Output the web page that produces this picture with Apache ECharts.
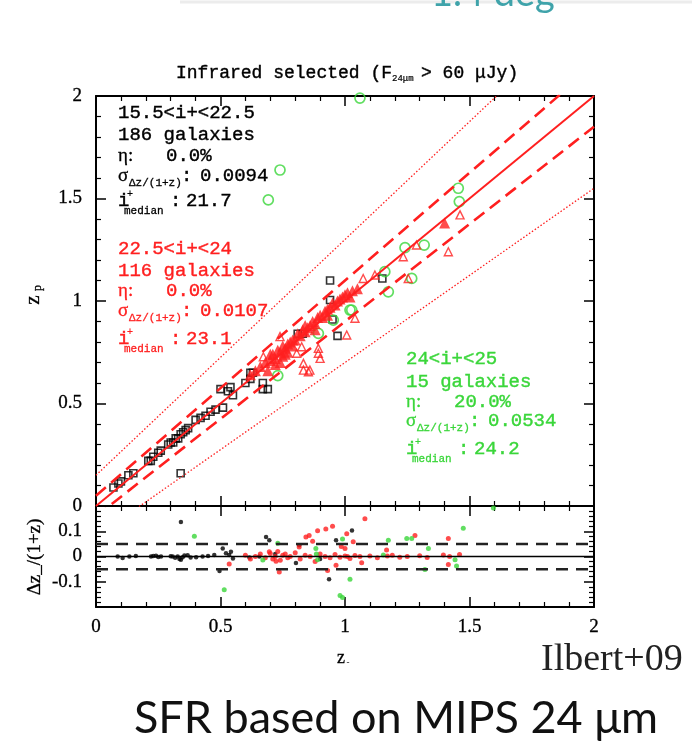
<!DOCTYPE html>
<html>
<head>
<meta charset="utf-8">
<script src="https://cdn.jsdelivr.net/npm/echarts@6/dist/echarts.min.js"></script>
<style>
html,body{margin:0;padding:0;background:#fff;}
#chart{width:692px;height:750px;}
</style>
</head>
<body>
<div id="chart"></div>
<script>
// ---------- DATA ----------
// top panel: [z_spec, z_phot]
const brightSquares = [
 [0.07,0.09],[0.09,0.11],[0.10,0.12],[0.13,0.15],[0.15,0.16],
 [0.21,0.22],[0.22,0.22],[0.23,0.24],[0.25,0.26],[0.26,0.27],
 [0.29,0.30],[0.30,0.31],[0.31,0.31],[0.32,0.33],[0.33,0.33],[0.34,0.35],[0.35,0.36],[0.36,0.37],[0.37,0.38],
 [0.40,0.42],[0.42,0.43],[0.44,0.44],[0.46,0.46],[0.48,0.47],[0.51,0.48],
 [0.50,0.57],[0.53,0.56],[0.54,0.58],[0.55,0.54],
 [0.60,0.60],[0.62,0.62],[0.62,0.65],[0.63,0.65],[0.67,0.57],[0.69,0.57],[0.67,0.60],
 [0.34,0.16],[0.81,0.84],[0.83,0.84],[0.94,1.10],[0.94,1.005],[0.95,0.91],[0.97,0.83],[1.15,1.11]
];
const midFilled = [
 [0.62,0.64],[0.64,0.66],[0.66,0.68],[0.68,0.70],[0.70,0.71],[0.71,0.74],[0.72,0.72],[0.73,0.76],[0.74,0.75],
 [0.75,0.78],[0.76,0.77],[0.77,0.79],[0.78,0.80],[0.79,0.81],[0.80,0.81],[0.81,0.84],[0.82,0.83],[0.83,0.86],
 [0.84,0.85],[0.85,0.87],[0.86,0.88],[0.87,0.90],[0.88,0.89],[0.89,0.92],[0.90,0.93],[0.91,0.92],[0.92,0.95],
 [0.93,0.96],[0.94,0.97],[0.95,0.99],[0.96,0.98],[0.97,1.00],[0.98,1.01],[0.99,1.02],[1.00,1.03],[1.01,1.04],
 [1.02,1.02],[1.03,1.05],[1.05,1.06],[1.40,1.38],[0.69,0.66],[0.72,0.69],[0.75,0.73],[0.74,0.70],[0.77,0.75],
 [0.70,0.74],[0.76,0.74],[0.79,0.78],[0.84,0.88],[0.88,0.86],[0.93,0.93]
];
const midOpen = [
 [1.462,1.42],[1.234,1.216],[1.287,1.273],[1.415,1.24],[1.073,1.11],[1.254,1.11],[1.04,0.916],[1.007,0.834],
 [0.826,0.777],[0.893,0.769],[0.90,0.72],[0.833,0.663],[0.859,0.663],[0.739,0.826],[0.672,0.728],[1.12,1.127],
 [0.806,0.745],[0.833,0.696],[0.853,0.655],[0.893,0.745]
];
const faintCircles = [
 [0.739,1.639],[0.692,1.493],[1.06,1.99],[1.455,1.55],[1.459,1.485],[1.241,1.26],[1.318,1.273],[1.16,1.143],
 [1.174,1.045],[1.268,1.11],[1.027,0.956],[0.73,0.636],[0.953,0.907],[0.893,0.842],[1.02,0.956]
];
// bottom panel: [z_spec, dz/(1+z)]
const brightRes = [
 [0.087,0],[0.107,-0.006],[0.134,0],[0.16,0.002],[0.221,0],[0.23,0.002],[0.241,0.003],[0.25,-0.002],[0.261,0],
 [0.30,0.001],[0.308,0],[0.318,-0.005],[0.328,0],[0.335,-0.01],[0.341,-0.013],[0.348,-0.003],[0.355,0.004],
 [0.368,0.005],[0.38,-0.004],[0.402,-0.003],[0.428,0],[0.45,0.002],[0.475,0.006],[0.509,0.032],[0.522,0.013],
 [0.535,0.006],[0.542,0.019],[0.55,-0.008],[0.341,0.137],[0.496,-0.057],[0.616,-0.004],[0.656,0],[0.683,0.077],
 [0.696,0.064],[0.803,-0.026],[0.816,0.045],[0.936,-0.09],[0.964,0.064],[0.90,-0.01],[1.028,0.103],[0.72,0.01]
];
const midRes = [
 [0.60,0.005],[0.62,-0.01],[0.64,0.0],[0.66,0.01],[0.68,-0.005],[0.70,0.012],[0.71,-0.01],[0.72,0.0],[0.73,0.02],
 [0.74,-0.015],[0.75,0.005],[0.76,0.01],[0.77,-0.005],[0.78,0.0],[0.80,0.015],[0.82,-0.01],[0.84,0.005],[0.86,0.0],
 [0.88,-0.02],[0.90,0.01],[0.92,0.0],[0.94,-0.005],[0.96,0.008],[0.98,-0.003],[1.0,0.002],[1.01,0.0],[1.02,-0.008],
 [1.04,0.004],[1.06,0.0],[1.10,0.002],[1.13,-0.005],[1.17,0.002],[1.19,0.005],[1.22,-0.003],[1.25,0.0],[1.30,0.003],
 [1.33,-0.004],[1.395,0.006],[1.42,0.0],[1.46,0.008],
 [0.535,-0.03],[0.843,0.077],[0.856,0.083],[0.89,0.102],[0.923,0.109],[0.816,0.038],[0.964,-0.035],[0.93,-0.055],
 [0.736,-0.061],[0.696,0.019],[0.723,-0.019],[1.08,0.15],[1.007,0.09],[1.033,0.058],[1.0,0.032],[1.167,0.026],
 [1.281,0.083],[1.415,0.071],[1.067,-0.025],[1.415,-0.032],[0.95,0.12],[0.985,0.04],[0.87,0.06]
];
const faintRes = [
 [0.395,0.08],[0.515,-0.132],[0.73,0.052],[0.67,-0.014],[0.883,0.032],[0.89,-0.013],[0.885,0.01],[0.99,0.069],
 [0.99,-0.162],[1.596,0.192],[1.475,0.112],[1.174,0.064],[1.248,0.071],[1.268,0.071],[1.335,0.032],[1.321,-0.051],
 [1.154,0.006],[1.442,-0.013],[1.448,-0.038],[1.02,-0.09],[0.98,-0.154]
];
// reference relations
const lineZ = [0, 2];
const dashK = 0.05;   // dz/(1+z) = 0.05
const dotK = 0.15;    // catastrophic limit 0.15(1+z)
const resZero = [[0,0],[2,0]];
const resDashUp = [[0,0.05],[2,0.05]];
const resDashDn = [[0,-0.05],[2,-0.05]];
// tick labels
const xTickLabels = ['0','0.5','1','1.5','2'];
const yTopLabels = ['0','0.5','1','1.5','2'];
const yBotLabels = {'-0.1':'-0.1','0':'0','0.1':'0.1'};

// ---------- CHART ----------
const RED = '#ff1f1f', GREEN = '#3ad63a', BLACK = '#000';
const MONO = '"Liberation Mono", monospace';
const SERIF = '"Liberation Serif", serif';
const SANS = 'Lato, "Open Sans", sans-serif';
const chart = echarts.init(document.getElementById('chart'), null, {renderer:'canvas'});

function axisBase(extra){
  return Object.assign({
    axisLine:{show:true,onZero:false,lineStyle:{color:'#000',width:2}},
    axisTick:{show:true,inside:true,length:10,lineStyle:{color:'#000',width:1.5}},
    minorTick:{show:true,splitNumber:5,length:5,lineStyle:{color:'#000',width:1.2}},
    splitLine:{show:false},
    axisLabel:{show:false}
  }, extra);
}
const lblStyle = {show:true,color:'#000',fontSize:19,fontFamily:SERIF,textBorderColor:'#000',textBorderWidth:0.3};
const xLabel = Object.assign({margin:11,formatter:v=>xTickLabels[Math.round(v*2)]}, lblStyle);

const option = {
  backgroundColor:'#fff',
  animation:false,
  grid:[
    {left:96,top:96,width:498,height:410},
    {left:96,top:506,width:498,height:101}
  ],
  xAxis:[
    axisBase({type:'value',gridIndex:0,position:'bottom',min:0,max:2,interval:0.5}),
    axisBase({type:'value',gridIndex:0,position:'top',min:0,max:2,interval:0.5}),
    axisBase({type:'value',gridIndex:1,position:'bottom',min:0,max:2,interval:0.5,axisLabel:xLabel}),
    axisBase({type:'value',gridIndex:1,position:'top',min:0,max:2,interval:0.5})
  ],
  yAxis:[
    axisBase({type:'value',gridIndex:0,position:'left',min:0,max:2,interval:0.5,
      axisLabel:Object.assign({margin:14,formatter:v=>yTopLabels[Math.round(v*2)]}, lblStyle)}),
    axisBase({type:'value',gridIndex:0,position:'right',min:0,max:2,interval:0.5}),
    axisBase({type:'value',gridIndex:1,position:'left',min:-0.2,max:0.2,interval:0.1,
      axisLabel:Object.assign({margin:14,formatter:v=>{const k=(Math.round(v*10)/10).toString(); return yBotLabels[k]||'';}}, lblStyle)}),
    axisBase({type:'value',gridIndex:1,position:'right',min:-0.2,max:0.2,interval:0.1})
  ],
  series:[
    {type:'scatter',xAxisIndex:0,yAxisIndex:0,data:brightSquares,symbol:'rect',symbolSize:7,
      itemStyle:{color:'rgba(255,255,255,0)',borderColor:BLACK,borderWidth:1.6}},
    {type:'scatter',xAxisIndex:0,yAxisIndex:0,data:faintCircles,symbol:'circle',symbolSize:10,
      itemStyle:{color:'rgba(255,255,255,0)',borderColor:GREEN,borderWidth:1.7}},
    {type:'scatter',xAxisIndex:0,yAxisIndex:0,data:midOpen,symbol:'triangle',symbolSize:8,
      itemStyle:{color:'rgba(255,255,255,0)',borderColor:RED,borderWidth:1.4}},
    {type:'scatter',xAxisIndex:0,yAxisIndex:0,data:midFilled,symbol:'triangle',symbolSize:11,
      itemStyle:{color:RED}},
    {type:'line',xAxisIndex:0,yAxisIndex:0,data:lineZ.map(z=>[z,z]),showSymbol:false,clip:true,
      lineStyle:{color:RED,width:2}},
    {type:'line',xAxisIndex:0,yAxisIndex:0,data:lineZ.map(z=>[z,z+dashK*(1+z)]),showSymbol:false,clip:true,
      lineStyle:{color:RED,width:2.6,type:[13,7]}},
    {type:'line',xAxisIndex:0,yAxisIndex:0,data:lineZ.map(z=>[z,z-dashK*(1+z)]),showSymbol:false,clip:true,
      lineStyle:{color:RED,width:2.6,type:[13,7]}},
    {type:'line',xAxisIndex:0,yAxisIndex:0,data:lineZ.map(z=>[z,z+dotK*(1+z)]),showSymbol:false,clip:true,
      lineStyle:{color:RED,width:1.3,type:[1.5,2]}},
    {type:'line',xAxisIndex:0,yAxisIndex:0,data:lineZ.map(z=>[z,z-dotK*(1+z)]),showSymbol:false,clip:true,
      lineStyle:{color:RED,width:1.3,type:[1.5,2]}},
    // bottom panel
    {type:'scatter',xAxisIndex:2,yAxisIndex:2,data:brightRes,symbol:'circle',symbolSize:4.5,itemStyle:{color:BLACK}},
    {type:'scatter',xAxisIndex:2,yAxisIndex:2,data:midRes,symbol:'circle',symbolSize:5,itemStyle:{color:RED}},
    {type:'scatter',xAxisIndex:2,yAxisIndex:2,data:faintRes,symbol:'circle',symbolSize:5,itemStyle:{color:GREEN}},
    {type:'line',xAxisIndex:2,yAxisIndex:2,data:resZero,showSymbol:false,lineStyle:{color:BLACK,width:1.5}},
    {type:'line',xAxisIndex:2,yAxisIndex:2,data:resDashUp,showSymbol:false,lineStyle:{color:'#222',width:2.5,type:[12,8]}},
    {type:'line',xAxisIndex:2,yAxisIndex:2,data:resDashDn,showSymbol:false,lineStyle:{color:'#222',width:2.5,type:[12,8]}}
  ],
  graphic:[]
};

// ---------- TEXT ----------
const G = option.graphic;
function txt(x,y,text,o){
  o=o||{};
  const c = o.color||'#000';
  G.push({type:'text',x:x,y:y,rotation:o.rot||0,z:100,
    style:{text:text,fill:c,font:(o.weight||'normal')+' '+(o.size||19)+'px '+(o.family||MONO),
      stroke:o.nostroke?null:c,lineWidth:o.nostroke?0:(o.sw||0.4),
      textAlign:o.align||'left',textVerticalAlign:'middle'}});
}
// slide remnants
G.push({type:'line',shape:{x1:180,y1:2,x2:692,y2:2},style:{stroke:'#ececec',lineWidth:3},z:1});
txt(431,-6,'1.4 deg',{size:38,family:SANS,color:'#3fa3aa',nostroke:true});
// title
txt(176,73,'Infrared selected (F',{size:18});
txt(392,79,'24μm',{size:9,sw:0.2});
txt(421,73,'> 60 μJy)',{size:18});
// axis titles
txt(33,300,'z',{size:21,family:SERIF,rot:Math.PI/2,align:'center',sw:0.3});
txt(38,288,'p',{size:12,family:SERIF,rot:Math.PI/2,align:'center',sw:0.3});
txt(35,557,'Δz_/(1+z)',{size:19,family:SERIF,rot:Math.PI/2,align:'center',sw:0.3});
txt(341,658,'z',{size:18,family:SERIF,align:'center',sw:0.3});
txt(348,663,'-',{size:9,family:SERIF,align:'center',nostroke:true});
txt(541,660,'Ilbert+09',{size:38,family:SERIF,color:'#222',nostroke:true});
txt(396,718,'SFR based on MIPS 24 μm',{size:45,family:SANS,color:'#111',align:'center',nostroke:true});

function block(x,y0,dy,color,lines){
  const [range,count,eta,sig,med] = lines;
  txt(x,y0,range,{color});
  txt(x,y0+dy[0],count,{color});
  txt(x,y0+dy[1],'η:',{color,family:SERIF,size:19,sw:0.3});
  txt(x+48,y0+dy[1],eta,{color});
  txt(x,y0+dy[2],'σ',{color,family:SERIF,size:19,sw:0.3});
  txt(x+11,y0+dy[2]+7,'Δz/(1+z)',{color,size:11,sw:0.3});
  txt(x+63,y0+dy[2],':',{color});
  txt(x+82,y0+dy[2],sig,{color});
  txt(x,y0+dy[3],'i',{color});
  txt(x+9,y0+dy[3]-7,'+',{color,size:10,sw:0.2});
  txt(x+6,y0+dy[3]+10,'median',{color,size:11,sw:0.3});
  txt(x+52,y0+dy[3],':',{color});
  txt(x+68,y0+dy[3],med,{color});
}
block(118,113,[22,43,63,88],'#000',['15.5<i+<22.5','186 galaxies','0.0%','0.0094','21.7']);
block(118,249,[22,42,62,90],RED,['22.5<i+<24','116 galaxies','0.0%','0.0107','23.1']);
block(406,359,[23,43,62,90],GREEN,['24<i+<25','15 galaxies','20.0%','0.0534','24.2']);

chart.setOption(option);
</script>
</body>
</html>
